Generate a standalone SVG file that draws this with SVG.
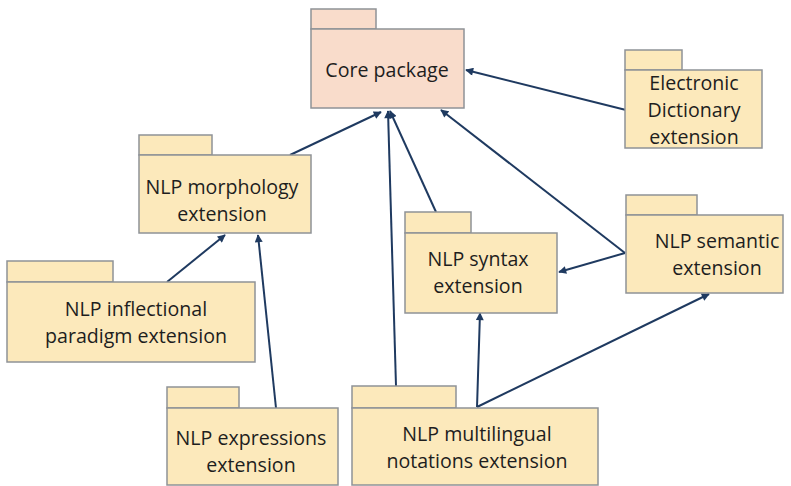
<svg xmlns="http://www.w3.org/2000/svg" width="791" height="486" viewBox="0 0 791 486">
  <style>
    .pkg { fill: #fce9bb; stroke: #8f9297; stroke-width: 1.5; }
    .core { fill: #f9dccb; stroke: #8f9297; stroke-width: 1.5; }
    .lbl { font-family: "Open Sans", "Liberation Sans", sans-serif; font-size: 19.6px; fill: #1e1e1e; text-anchor: middle; }
    .dep { stroke: #1f3a60; stroke-width: 2; fill: none; marker-end: url(#arr); }
  </style>
  <defs>
    <marker id="arr" viewBox="0 0 10 10" refX="9" refY="5" markerWidth="9" markerHeight="8" markerUnits="userSpaceOnUse" orient="auto">
      <path d="M0,0 L10,5 L0,10 z" fill="#1f3a60"/>
    </marker>
  </defs>
  <rect width="791" height="486" fill="#ffffff"/>

  <!-- dependency arrows -->
  <g id="connectors">
    <line class="dep" x1="626" y1="110" x2="466" y2="70"/>
    <line class="dep" x1="290" y1="155" x2="381" y2="112"/>
    <line class="dep" x1="396" y1="386" x2="388" y2="111"/>
    <line class="dep" x1="436" y1="212" x2="390" y2="111"/>
    <line class="dep" x1="625" y1="253" x2="441" y2="110"/>
    <line class="dep" x1="625" y1="253" x2="559" y2="272"/>
    <line class="dep" x1="167" y1="282" x2="225" y2="235"/>
    <line class="dep" x1="276" y1="408" x2="258" y2="235"/>
    <line class="dep" x1="477" y1="407" x2="480" y2="313"/>
    <line class="dep" x1="477" y1="407" x2="709" y2="294"/>
  </g>

  <g id="core-package">
    <rect class="core" x="311" y="9" width="65" height="20"/>
    <rect class="core" x="311" y="29" width="153" height="79"/>
    <text class="lbl" x="387" y="77">Core package</text>
  </g>

  <g id="electronic-dictionary">
    <rect class="pkg" x="625" y="50" width="57" height="20"/>
    <rect class="pkg" x="625" y="70" width="137" height="78"/>
    <text class="lbl" x="694" y="90">Electronic</text>
    <text class="lbl" x="694" y="117">Dictionary</text>
    <text class="lbl" x="694" y="144">extension</text>
  </g>

  <g id="nlp-morphology">
    <rect class="pkg" x="139" y="135" width="73" height="20"/>
    <rect class="pkg" x="139" y="155" width="172" height="78"/>
    <text class="lbl" x="222" y="194">NLP morphology</text>
    <text class="lbl" x="222" y="221">extension</text>
  </g>

  <g id="nlp-inflectional">
    <rect class="pkg" x="7" y="261" width="106" height="21"/>
    <rect class="pkg" x="7" y="282" width="248" height="80"/>
    <text class="lbl" x="136" y="316">NLP inflectional</text>
    <text class="lbl" x="136" y="343">paradigm extension</text>
  </g>

  <g id="nlp-syntax">
    <rect class="pkg" x="405" y="212" width="66" height="21"/>
    <rect class="pkg" x="405" y="233" width="152" height="80"/>
    <text class="lbl" x="478" y="266">NLP syntax</text>
    <text class="lbl" x="478" y="293">extension</text>
  </g>

  <g id="nlp-semantic">
    <rect class="pkg" x="626" y="195" width="71" height="20"/>
    <rect class="pkg" x="626" y="215" width="157" height="78"/>
    <text class="lbl" x="717" y="248">NLP semantic</text>
    <text class="lbl" x="717" y="275">extension</text>
  </g>

  <g id="nlp-expressions">
    <rect class="pkg" x="167" y="387" width="72" height="21"/>
    <rect class="pkg" x="167" y="408" width="171" height="77"/>
    <text class="lbl" x="251" y="445">NLP expressions</text>
    <text class="lbl" x="251" y="472">extension</text>
  </g>

  <g id="nlp-multilingual">
    <rect class="pkg" x="352" y="386" width="104" height="22"/>
    <rect class="pkg" x="352" y="408" width="246" height="77"/>
    <text class="lbl" x="477" y="441">NLP multilingual</text>
    <text class="lbl" x="477" y="468">notations extension</text>
  </g>
</svg>
